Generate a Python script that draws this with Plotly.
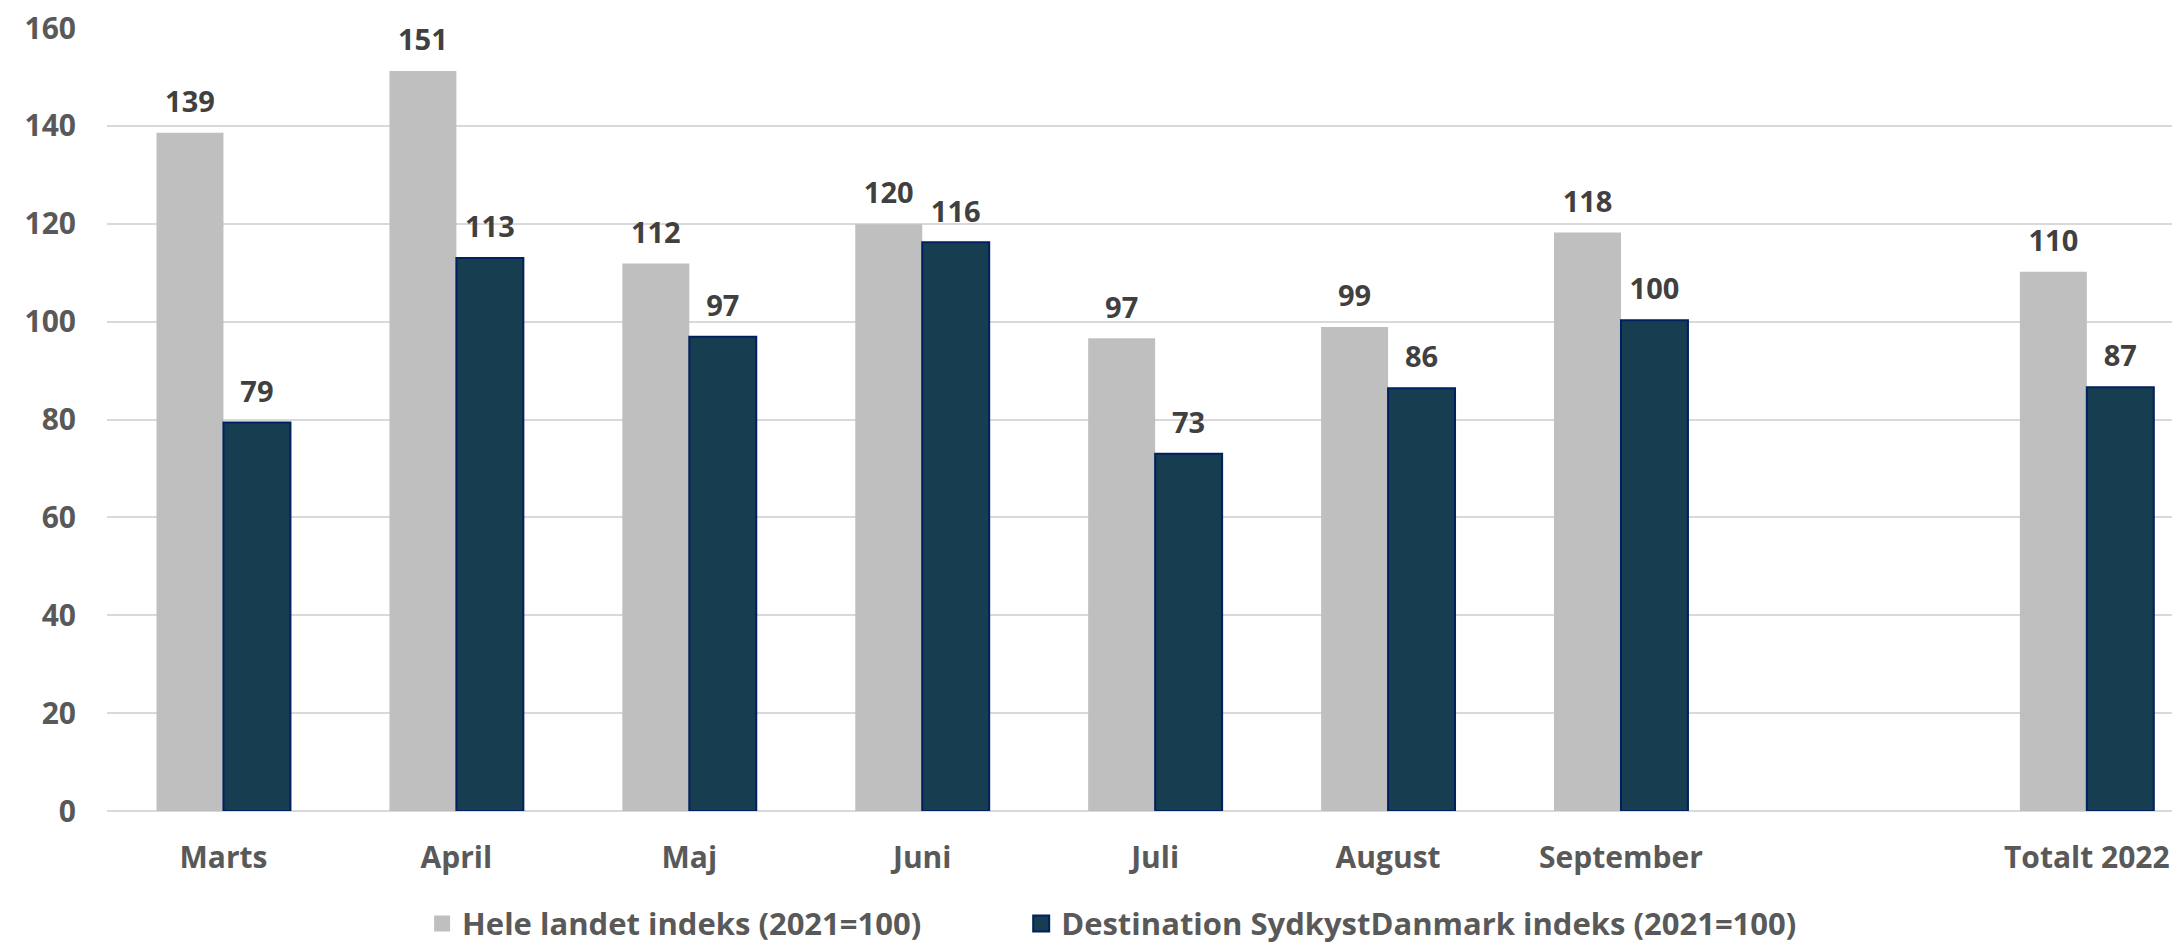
import plotly.graph_objects as go

categories = ["Marts", "April", "Maj", "Juni", "Juli", "August", "September", " ", "Totalt 2022"]
hele_landet = [138.6, 151.2, 111.9, 119.9, 96.6, 98.9, 118.2, None, 110.2]
sydkyst = [79.4, 113.0, 96.9, 116.2, 73.0, 86.4, 100.3, None, 86.6]
series_names = ["Hele landet indeks (2021=100)", "Destination SydkystDanmark indeks (2021=100)"]
y_ticks = [0, 20, 40, 60, 80, 100, 120, 140, 160]

FONT = "Open Sans"
GRAY = "#bfbfbf"
NAVY = "#173d50"
NAVY_EDGE = "#002060"
TICK_COL = "#595959"
LABEL_COL = "#404040"

def lbl(vals):
    return ["" if v is None else f"{round(v):d}" for v in vals]

fig = go.Figure()
fig.add_trace(go.Bar(x=categories, y=hele_landet, name=series_names[0], showlegend=False,
                     marker=dict(color=GRAY, line=dict(width=0)), hoverinfo="skip"))
fig.add_trace(go.Bar(x=categories, y=sydkyst, name=series_names[1], showlegend=False,
                     marker=dict(color=NAVY, line=dict(color=NAVY_EDGE, width=2)), hoverinfo="skip"))
for vals in (hele_landet, sydkyst):
    fig.add_trace(go.Scatter(x=categories, y=vals, mode="markers+text", text=lbl(vals),
                             textposition="top center",
                             marker=dict(size=20, opacity=0),
                             textfont=dict(family=FONT, size=29, color=LABEL_COL, weight="bold"),
                             showlegend=False, hoverinfo="skip", cliponaxis=False))

# legend-only entries (square swatches) on a hidden overlay axis pair
fig.add_trace(go.Scatter(x=[None], y=[None], mode="markers", name=series_names[0],
                         xaxis="x2", yaxis="y2",
                         marker=dict(symbol="square", size=21, color=GRAY),
                         legend="legend", hoverinfo="skip"))
fig.add_trace(go.Scatter(x=[None], y=[None], mode="markers", name=series_names[1],
                         xaxis="x2", yaxis="y2",
                         marker=dict(symbol="square", size=21, color=NAVY,
                                     line=dict(color=NAVY_EDGE, width=2)),
                         legend="legend2", hoverinfo="skip"))

legend_font = dict(family=FONT, size=31, color=TICK_COL, weight="bold")
fig.update_layout(
    width=2172, height=937,
    margin=dict(l=99, r=0, t=20, b=134, autoexpand=False),
    paper_bgcolor="white", plot_bgcolor="white",
    barmode="group", bargap=0.425, bargroupgap=0,
    scattermode="group", scattergap=0.425,
    font=dict(family=FONT, size=30, color=TICK_COL, weight="bold"),
    showlegend=True,
    legend=dict(orientation="h", x=0.152, xanchor="left", y=-0.144, yanchor="middle",
                font=legend_font, itemsizing="trace", bgcolor="rgba(0,0,0,0)"),
    legend2=dict(orientation="h", x=0.441, xanchor="left", y=-0.144, yanchor="middle",
                 font=legend_font, itemsizing="trace", bgcolor="rgba(0,0,0,0)"),
    xaxis=dict(type="category", range=[-0.5, 8.4], showgrid=False, showline=False,
               ticks="", ticklabelstandoff=26, ticklabeloverflow="allow",
               tickfont=dict(family=FONT, size=30, color=TICK_COL, weight="bold")),
    yaxis=dict(range=[0, 160], tickvals=y_ticks, showgrid=True, gridcolor="#d9d9d9",
               gridwidth=2, zeroline=True, zerolinecolor="#d9d9d9", zerolinewidth=2,
               showline=False, ticks="", ticklabelstandoff=30, ticklabeloverflow="allow",
               tickfont=dict(family=FONT, size=30, color=TICK_COL, weight="bold")),
    xaxis2=dict(overlaying="x", visible=False, range=[0, 1]),
    yaxis2=dict(overlaying="y", visible=False, range=[0, 1]),
)

fig.write_html("out.html")
